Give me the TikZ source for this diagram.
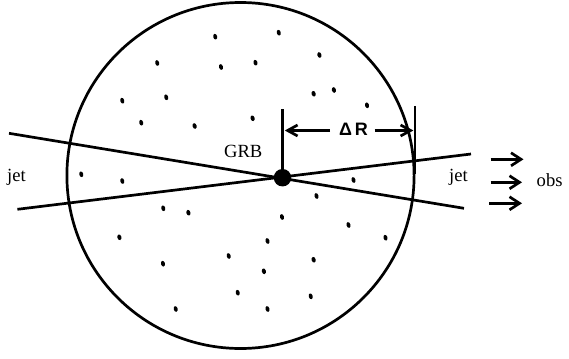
\documentclass[tikz,border=0pt]{standalone}
\usepackage{fontspec}
\setmainfont{Liberation Serif}
\newfontfamily\drfont{Liberation Sans}
\usetikzlibrary{arrows.meta}
\begin{document}
\begin{tikzpicture}[x=1pt,y=-1pt,
  ln/.style={line width=2.7pt, line cap=butt},
  bigarrow/.style={ln,-{Straight Barb[length=10pt,width=13pt]}},
  drarrow/.style={ln,-{Straight Barb[length=10pt,width=11pt]}},
  lbl/.style={inner sep=0pt, font=\fontsize{18.6}{21}\selectfont}]
\useasboundingbox (0,0) rectangle (569,358);
% sphere
\draw[ln] (240.5,175.5) ellipse [x radius=173.6, y radius=173];
% speckles
\foreach \px/\py in {215.2/36.7, 278.8/32.7, 319.4/55, 157.2/63, 221/67, 255.5/62.7,
  122.3/100.7, 166.2/97.3, 313.6/93.7, 333.9/90, 367/105.3, 141.2/122.7, 194.6/126,
  252.6/118.3, 81.3/174.3, 122.3/181, 353.5/180, 316.5/196, 163.3/208.3, 188.4/212.7,
  282/217, 348.5/225, 119.4/237.3, 385.5/237.7, 267.5/241, 228.7/256, 163/263.7,
  313.6/259.7, 263.9/271.3, 237.7/292.7, 310.7/296.3, 175.7/309, 267.5/309}
  \fill[rotate around={15:(\px,\py)}] (\px,\py) ellipse [x radius=2.0, y radius=2.9];
% jet cone lines
\coordinate (a1) at (9,133.3);
\coordinate (a2) at (464,208.3);
\coordinate (b1) at (17.4,209.3);
\coordinate (b2) at (471,154);
\draw[ln] (a1) -- (a2);
\draw[ln] (b1) -- (b2);
% GRB
\node[circle, fill=black, inner sep=0pt, minimum size=17.5pt] (grb) at (282.5,177.7) {};
\coordinate (vtop) at (282.5,109);
\draw[ln] (grb.center) -- (vtop);
\node[lbl, anchor=base] (grbt) at (243.2,157.3) {GRB};
% Delta R
\coordinate (rtop) at (415,106);
\coordinate (rbot) at (415,174);
\draw[ln] (rtop) -- (rbot);
\node[lbl, anchor=base, font=\fontsize{18}{20}\selectfont\drfont\bfseries] (dr) at (353.5,135.2) {Δ\,R};
\coordinate (ls) at (330,130.5);
\coordinate (la) at (284.8,130.5);
\coordinate (rs) at (374.5,130.5);
\coordinate (ra) at (413.4,130.5);
\draw[drarrow] (ls) -- (la);
\draw[drarrow] (rs) -- (ra);
% jet labels
\node[lbl, anchor=base] (jetl) at (16.5,181.7) {jet};
\node[lbl, anchor=base] (jetr) at (458.5,181.7) {jet};
% observer arrows
\coordinate (o1s) at (490.5,159.3);
\coordinate (o1e) at (523.5,159.3);
\coordinate (o2s) at (490.5,182.3);
\coordinate (o2e) at (522,182.3);
\coordinate (o3s) at (489,203.3);
\coordinate (o3e) at (522,203.3);
\draw[bigarrow] (o1s) -- (o1e);
\draw[bigarrow] (o2s) -- (o2e);
\draw[bigarrow] (o3s) -- (o3e);
\node[lbl, anchor=base west] (obs) at (536.5,186) {obs};
\end{tikzpicture}
\end{document}
